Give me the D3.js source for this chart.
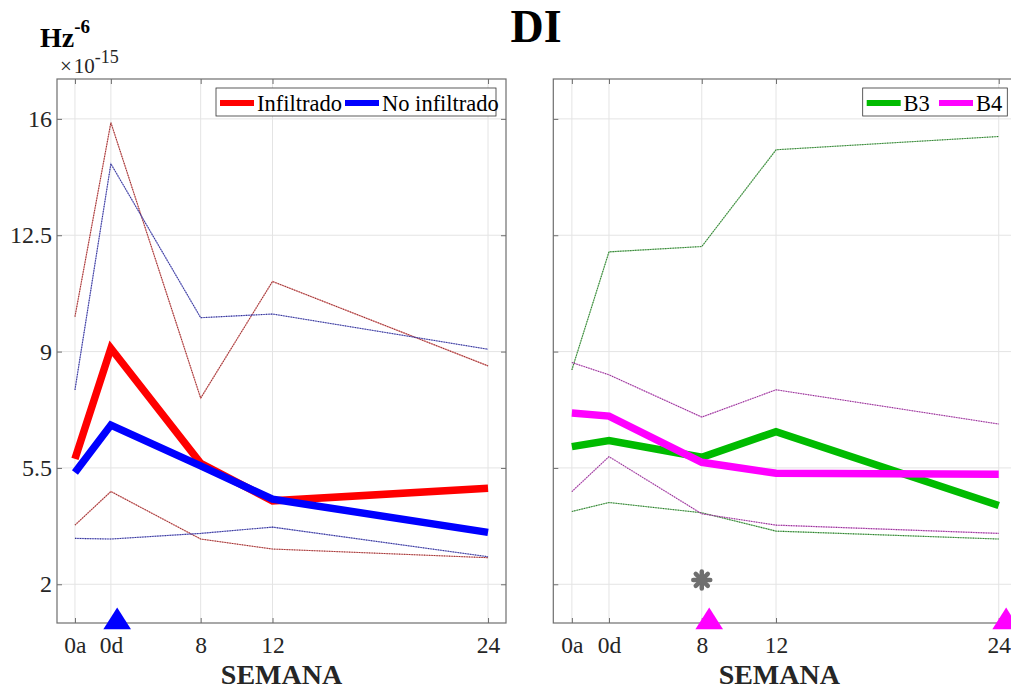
<!DOCTYPE html>
<html>
<head>
<meta charset="utf-8">
<script src="https://cdn.jsdelivr.net/npm/d3@7"></script>
<style>
  html, body { margin: 0; padding: 0; background: #fff; }
  svg { display: block; font-family: "Liberation Serif", "Times New Roman", serif; }
</style>
</head>
<body>
<svg id="chart" width="1011" height="690"></svg>
<script>
// Week positions and their tick labels
const weeks = [1, 3, 8, 12, 24];
const weekLabels = ["0a", "0d", "8", "12", "24"];
const yTicks = [2, 5.5, 9, 12.5, 16];
const yTickLabels = ["2", "5.5", "9", "12.5", "16"];

// Left panel: mean curves and their bands
const infiltrado      = [5.77, 9.10, 5.64, 4.51, 4.89];
const infiltradoHigh  = [10.05, 15.89, 7.60, 11.11, 8.57];
const infiltradoLow   = [3.78, 4.79, 3.36, 3.06, 2.80];
const noInfiltrado     = [5.36, 6.79, 5.56, 4.56, 3.56];
const noInfiltradoHigh = [7.85, 14.65, 10.02, 10.13, 9.07];
const noInfiltradoLow  = [3.38, 3.36, 3.53, 3.72, 2.83];

// Right panel: B3 and B4
const b3     = [6.14, 6.32, 5.82, 6.59, 4.37];
const b3High = [8.45, 12.00, 12.16, 15.07, 15.47];
const b3Low  = [4.19, 4.46, 4.15, 3.60, 3.36];
const b4     = [7.15, 7.06, 5.67, 5.34, 5.31];
const b4High = [8.67, 8.30, 7.03, 7.85, 6.82];
const b4Low  = [4.79, 5.84, 4.12, 3.78, 3.53];

// Significance markers
const leftTriangleWeeks = [3.35];
const rightTriangleWeeks = [8.4, 24.4];
const asteriskPoints = [{ week: 8, value: 2.13 }];

const svg = d3.select("#chart");

const plotTop = 79, plotBottom = 623;
const y = d3.scaleLinear().domain([0.835, 17.2]).range([plotBottom, plotTop]);

const panels = [
  {
    x: d3.scaleLinear().domain([0, 25]).range([57, 506]),
    showYLabels: true,
    series: [
      { band: [infiltradoHigh, infiltradoLow], mean: infiltrado, color: "#ff0000", dotColor: "#d85050", dotDark: "#5a1010" },
      { band: [noInfiltradoHigh, noInfiltradoLow], mean: noInfiltrado, color: "#0000ff", dotColor: "#5a5ad0", dotDark: "#10105a" }
    ],
    order: [0, 1],
    legend: { x0: 216, x1: 496, items: [
      { label: "Infiltrado", color: "#ff0000", sx: 220, tx: 257 },
      { label: "No infiltrado", color: "#0000ff", sx: 345, tx: 382 }
    ] },
    triangles: leftTriangleWeeks, triColor: "#0000ff",
    asterisks: []
  },
  {
    x: d3.scaleLinear().domain([0, 25]).range([553.3, 1017.3]),
    showYLabels: false,
    series: [
      { band: [b3High, b3Low], mean: b3, color: "#00bb00", dotColor: "#50b050", dotDark: "#104a10" },
      { band: [b4High, b4Low], mean: b4, color: "#ff00ff", dotColor: "#d060d0", dotDark: "#5a105a" }
    ],
    order: [0, 1],
    legend: { x0: 862.7, x1: 1007.3, items: [
      { label: "B3", color: "#00bb00", sx: 866.7, tx: 903.5 },
      { label: "B4", color: "#ff00ff", sx: 939, tx: 976 }
    ] },
    triangles: rightTriangleWeeks, triColor: "#ff00ff",
    asterisks: asteriskPoints
  }
];

panels.forEach(p => {
  const x = p.x;
  const [x0, x1] = x.range();
  const g = svg.append("g");

  // grid
  g.append("g").selectAll("line").data(weeks).join("line")
    .attr("x1", d => x(d)).attr("x2", d => x(d))
    .attr("y1", plotTop).attr("y2", plotBottom)
    .attr("stroke", "#e4e4e4").attr("stroke-width", 1);
  g.append("g").selectAll("line").data(yTicks).join("line")
    .attr("x1", x0).attr("x2", x1)
    .attr("y1", d => y(d)).attr("y2", d => y(d))
    .attr("stroke", "#e4e4e4").attr("stroke-width", 1);

  const line = d3.line().x((d, i) => x(weeks[i])).y(d => y(d));

  // dotted bands: thin coloured trace with darker dots
  p.series.forEach(s => {
    s.band.forEach(vals => {
      g.append("path").attr("d", line(vals)).attr("fill", "none")
        .attr("stroke", s.dotColor).attr("stroke-width", 1.1).attr("opacity", 0.7);
      g.append("path").attr("d", line(vals)).attr("fill", "none")
        .attr("stroke", s.dotDark).attr("stroke-width", 1.1)
        .attr("stroke-dasharray", "1,1.5").attr("opacity", 0.7);
    });
  });

  // mean lines
  p.order.forEach(k => {
    const s = p.series[k];
    g.append("path").attr("d", line(s.mean)).attr("fill", "none")
      .attr("stroke", s.color).attr("stroke-width", 7.5)
      .attr("stroke-linejoin", "miter");
  });

  // axes frame with inward ticks
  const axisColor = "#6e6e6e";
  const bottomAxis = d3.axisBottom(x).tickValues(weeks)
    .tickFormat((d, i) => weekLabels[i]).tickSize(-5).tickPadding(13);
  const ga = g.append("g").attr("transform", `translate(0,${plotBottom})`).call(bottomAxis);
  ga.select(".domain").remove();
  ga.selectAll("line").attr("stroke", axisColor);
  ga.selectAll("text").attr("font-size", 23.5).attr("fill", "#262626")
    .attr("font-family", "Liberation Serif, serif");

  const topAxis = d3.axisTop(x).tickValues(weeks).tickFormat("").tickSize(-5);
  const gt = g.append("g").attr("transform", `translate(0,${plotTop})`).call(topAxis);
  gt.select(".domain").remove();
  gt.selectAll("line").attr("stroke", axisColor);

  const leftAxis = d3.axisLeft(y).tickValues(yTicks)
    .tickFormat((d, i) => p.showYLabels ? yTickLabels[i] : "").tickSize(-5).tickPadding(5);
  const gl = g.append("g").attr("transform", `translate(${x0},0)`).call(leftAxis);
  gl.select(".domain").remove();
  gl.selectAll("line").attr("stroke", axisColor);
  gl.selectAll("text").attr("font-size", 24).attr("fill", "#262626")
    .attr("font-family", "Liberation Serif, serif");

  const rightAxis = d3.axisRight(y).tickValues(yTicks).tickFormat("").tickSize(-5);
  const gr = g.append("g").attr("transform", `translate(${x1},0)`).call(rightAxis);
  gr.select(".domain").remove();
  gr.selectAll("line").attr("stroke", axisColor);

  g.append("rect").attr("x", x0).attr("y", plotTop)
    .attr("width", x1 - x0).attr("height", plotBottom - plotTop)
    .attr("fill", "none").attr("stroke", axisColor).attr("stroke-width", 1.2);

  // x-axis title
  g.append("text").attr("x", (x0 + x1) / 2 + (p.showYLabels ? 0 : -6)).attr("y", 684)
    .attr("text-anchor", "middle").attr("font-size", 28).attr("font-weight", "bold")
    .attr("fill", "#262626").text("SEMANA");

  // legend
  const L = p.legend;
  g.append("rect").attr("x", L.x0).attr("y", 88).attr("width", L.x1 - L.x0).attr("height", 28)
    .attr("fill", "#fff").attr("stroke", "#333").attr("stroke-width", 0.8);
  L.items.forEach(it => {
    g.append("line").attr("x1", it.sx).attr("x2", it.sx + 34).attr("y1", 103).attr("y2", 103)
      .attr("stroke", it.color).attr("stroke-width", 6);
    g.append("text").attr("x", it.tx).attr("y", 110.5).attr("font-size", 22.5)
      .attr("fill", "#000").text(it.label);
  });

  // triangle markers on the time axis
  const tri = d3.symbol().type(d3.symbolTriangle).size(300);
  g.append("g").selectAll("path").data(p.triangles).join("path")
    .attr("d", tri)
    .attr("transform", d => `translate(${x(d)},${plotBottom - 1}) scale(1.05,0.95)`)
    .attr("fill", p.triColor);

  // asterisk markers
  p.asterisks.forEach(a => {
    const cx = x(a.week), cy = y(a.value);
    const ag = g.append("g").attr("transform", `translate(${cx},${cy})`);
    d3.range(4).forEach(k => {
      ag.append("line").attr("x1", -8.5).attr("x2", 8.5).attr("y1", 0).attr("y2", 0)
        .attr("transform", `rotate(${k * 45})`)
        .attr("stroke", "#6f6f6f").attr("stroke-width", 4.5).attr("stroke-linecap", "round");
    });
    ag.append("circle").attr("r", 5).attr("fill", "#6f6f6f");
  });
});

// overall title
svg.append("text").attr("x", 536).attr("y", 42).attr("text-anchor", "middle")
  .attr("font-size", 46).attr("font-weight", "bold").attr("fill", "#000").text("DI");

// unit label and exponent
const unit = svg.append("text").attr("x", 40).attr("y", 47)
  .attr("font-size", 28).attr("font-weight", "bold").attr("fill", "#000");
unit.append("tspan").text("Hz");
unit.append("tspan").attr("dy", -14).attr("font-size", 19).text("-6");

const expo = svg.append("text").attr("x", 60).attr("y", 73)
  .attr("font-size", 21).attr("fill", "#262626");
expo.append("tspan").text("×");
expo.append("tspan").attr("dx", 2).text("10");
expo.append("tspan").attr("dy", -10).attr("font-size", 18).text("-15");
</script>
</body>
</html>
